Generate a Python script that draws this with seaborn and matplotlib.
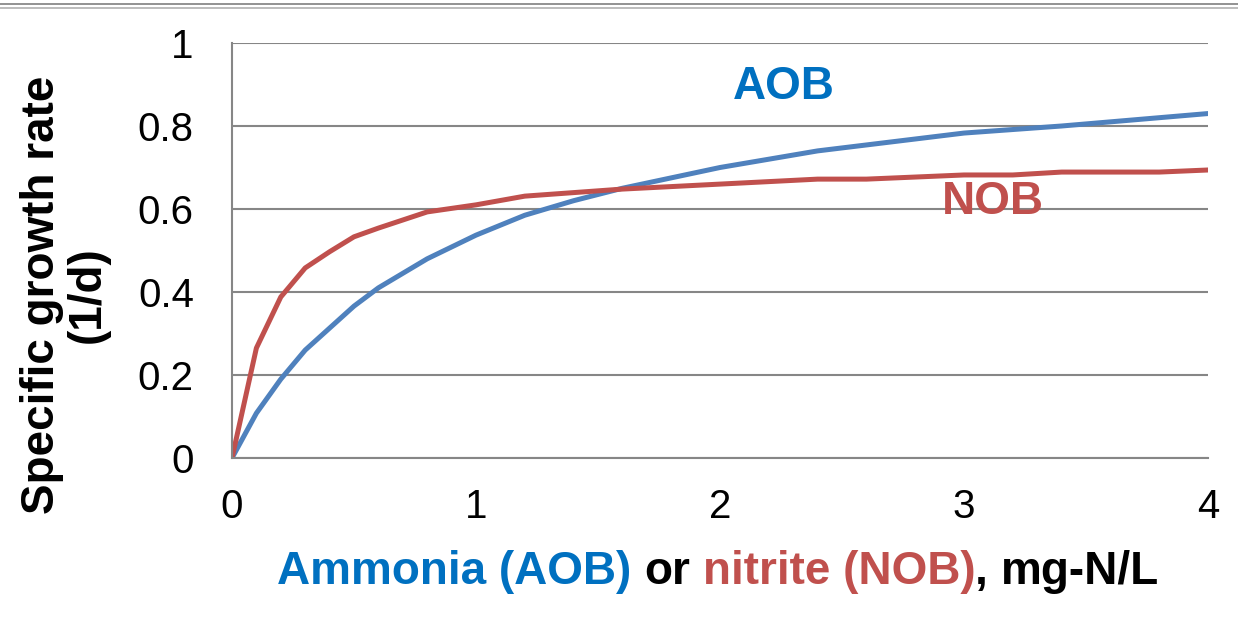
import matplotlib
matplotlib.use('Agg')
import matplotlib.pyplot as plt
from matplotlib.lines import Line2D
import seaborn as sns
import pandas as pd

# substrate concentration, mg-N/L
aob_x = [0, 0.1, 0.2, 0.3, 0.5, 0.6, 0.8, 1.0, 1.2, 1.4, 1.6, 2.0, 2.4, 3.0, 3.4, 4.0]
aob_y = [0, 0.108, 0.19, 0.26, 0.366, 0.41, 0.48, 0.537, 0.585, 0.62, 0.65, 0.70,
         0.74, 0.783, 0.80, 0.83]

nob_x = [0, 0.1, 0.2, 0.3, 0.4, 0.5, 0.6, 0.8, 1.0, 1.2, 1.6, 2.0, 2.4, 2.6, 3.0,
         3.2, 3.4, 3.8, 4.0]
nob_y = [0, 0.265, 0.388, 0.458, 0.497, 0.533, 0.554, 0.593, 0.61, 0.631, 0.648,
         0.66, 0.672, 0.672, 0.682, 0.682, 0.689, 0.689, 0.694]

x_ticks = [0, 1, 2, 3, 4]
y_ticks = [0, 0.2, 0.4, 0.6, 0.8, 1]
y_tick_labels = ['0', '0.2', '0.4', '0.6', '0.8', '1']

aob_line = '#4F81BD'
nob_line = '#C0504D'
aob_text = '#0070C0'
grid_gray = '#868686'

sns.set_style('white')
plt.rcParams['font.family'] = ['Liberation Sans', 'DejaVu Sans']
plt.rcParams['text.color'] = 'black'
plt.rcParams['axes.labelcolor'] = 'black'

df = pd.concat([
    pd.DataFrame({'S': aob_x, 'mu': aob_y, 'group': 'AOB'}),
    pd.DataFrame({'S': nob_x, 'mu': nob_y, 'group': 'NOB'}),
])

fig = plt.figure(figsize=(12.38, 6.17), dpi=100)
ax = fig.add_axes([232 / 1238, 1 - 458 / 617, 976 / 1238, 415 / 617])

sns.lineplot(data=df, x='S', y='mu', hue='group', palette={'AOB': aob_line, 'NOB': nob_line},
             linewidth=3.6, ax=ax, legend=False, sort=False, estimator=None)

ax.set_xlim(0, 4)
ax.set_ylim(0, 1)
ax.set_xticks(x_ticks)
ax.set_xticklabels([str(t) for t in x_ticks])
ax.set_yticks(y_ticks)
ax.set_yticklabels(y_tick_labels)
ax.tick_params(axis='both', labelsize=29, colors=grid_gray, labelcolor='black',
               length=8.5, width=1.5, direction='out')
ax.tick_params(axis='x', pad=13)
ax.tick_params(axis='y', pad=19)
ax.yaxis.grid(True, color=grid_gray, linewidth=1.5)
ax.set_axisbelow(True)
for side in ['top', 'right']:
    ax.spines[side].set_visible(False)
for side in ['left', 'bottom']:
    ax.spines[side].set_color(grid_gray)
    ax.spines[side].set_linewidth(1.5)

ax.set_xlabel('')
ax.set_ylabel('Specific growth rate\n(1/d)', fontsize=33, fontweight='bold',
              linespacing=1.05)
ax.yaxis.set_label_coords((110 - 232) / 976, 0.393)

ax.text(2.26, 0.895, 'AOB', color=aob_text, fontsize=33, fontweight='bold',
        ha='center', va='center')
ax.text(3.12, 0.617, 'NOB', color=nob_line, fontsize=33, fontweight='bold',
        ha='center', va='center')

# multi-coloured x label, assembled piece by piece
fig.canvas.draw()
renderer = fig.canvas.get_renderer()
kw = dict(fontsize=33, fontweight='bold', va='center', ha='left')
probe = fig.text(0, 0, 'a a', **kw)
w_sp = probe.get_window_extent(renderer).width
probe.remove()
probe = fig.text(0, 0, 'aa', **kw)
w_sp -= probe.get_window_extent(renderer).width
probe.remove()

# keep the comma tight to the closing bracket
parts = [('Ammonia (AOB)', aob_text, True), ('or', 'black', True),
         ('nitrite (NOB)', nob_line, False), (',', 'black', True), ('mg-N/L', 'black', False)]
texts = []
x = 0
for txt, col, gap in parts:
    t = fig.text(x / 1238, 1 - 572 / 617, txt, color=col, **kw)
    w = t.get_window_extent(renderer).width
    texts.append((t, x))
    x += w + (w_sp if gap else 0)
total = x
start = 718 - total / 2
for t, x0 in texts:
    t.set_x((start + x0) / 1238)

# double rule at the top of the slide
fig.add_artist(Line2D([0, 1], [1 - 4 / 617] * 2, color='#7f7f7f', linewidth=1.2))
fig.add_artist(Line2D([0, 1], [1 - 7.5 / 617] * 2, color='#b0b0b0', linewidth=1.2))

fig.savefig('out.png', dpi=100)
